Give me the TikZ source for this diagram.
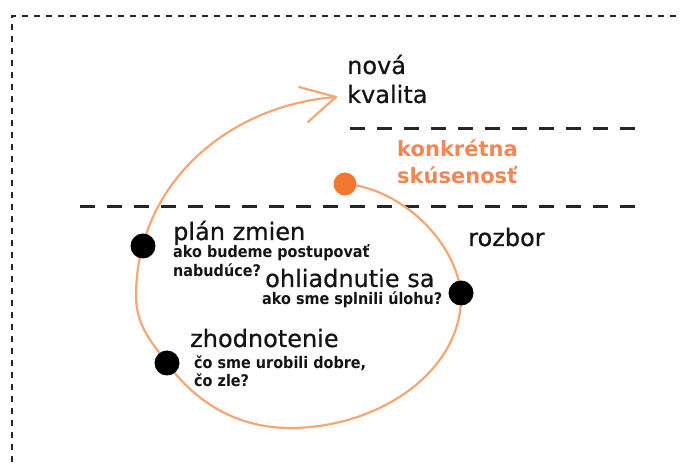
\documentclass[tikz,border=0pt]{standalone}
\usepackage{fontspec}
\setmainfont{DejaVu Sans}
\newfontfamily\labelfont[FakeBold=0.6]{DejaVu Sans}
\newfontfamily\notefont[FakeStretch=0.9]{DejaVu Sans Bold}
\begin{document}
\begin{tikzpicture}[x=1pt,y=-1pt,
  ink/.style={text=black!92},
  biglabel/.style={ink,anchor=base west,inner sep=0pt,font=\labelfont\fontsize{24}{28}\selectfont},
  smalllabel/.style={ink,anchor=base west,inner sep=0pt,font=\notefont\fontsize{16}{19}\selectfont},
  orangelabel/.style={anchor=base west,inner sep=0pt,text=orangetxt,font=\bfseries\fontsize{21}{25}\selectfont},
  stage/.style={circle,fill=black,inner sep=0pt,minimum size=25pt},
  startdot/.style={circle,fill=orangedot,inner sep=0pt,minimum size=23pt},
  level/.style={line width=3pt,dash pattern=on 15pt off 12pt,black!85},
  frame/.style={line width=2.3pt,dash pattern=on 6pt off 6pt,black!85},
  cycle/.style={line width=2.2pt,orangeline,line cap=round,line join=round}]
\definecolor{orangeline}{RGB}{244,166,116}
\definecolor{orangedot}{RGB}{240,120,50}
\definecolor{orangetxt}{RGB}{240,135,85}
\useasboundingbox (0,0) rectangle (681,465);

% outer dashed frame (only its top and left edges fall inside the page)
\coordinate (ftr) at (700,16);
\coordinate (ftl) at (12,16);
\coordinate (fbl) at (12,480);
\draw[frame] (ftr) -- (ftl) -- (fbl);

% dashed level lines
\coordinate (u1) at (350,129);
\coordinate (u2) at (640,129);
\coordinate (l1) at (80,207);
\coordinate (l2) at (640,207);
\draw[level] (u1) -- (u2);
\draw[level] (l1) -- (l2);

% stage points
\coordinate (exp) at (345,184);
\coordinate (look) at (461,293);
\coordinate (bottom) at (290,428);
\coordinate (eval) at (167,363);
\coordinate (left) at (136,295);
\coordinate (plan) at (143,246);
\coordinate (tip) at (336,97);
\coordinate (armA) at (299,87);
\coordinate (armB) at (308,122);

% spiral of learning, ending in an open arrowhead
\draw[cycle] (exp) .. controls (400,188) and (455,240) .. (look)
  .. controls (464,370) and (380,428) .. (bottom)
  .. controls (230,428) and (190,395) .. (eval)
  .. controls (150,340) and (136,325) .. (left)
  .. controls (137,182) and (230,105) .. (tip);
\draw[cycle] (armA) -- (tip) -- (armB);

% dots on the spiral
\node[startdot] (expdot) at (exp) {};
\node[stage] (lookdot) at (look) {};
\node[stage] (evaldot) at (eval) {};
\node[stage] (plandot) at (plan) {};

% labels
\node[biglabel] (nova) at (347,74) {nová};
\node[biglabel] (kval) at (347,103) {kvalita};
\node[orangelabel] (konk) at (397,157) {konkrétna};
\node[orangelabel] (skus) at (397,184) {skúsenosť};
\node[biglabel] (rozb) at (468,246) {rozbor};

\node[biglabel] (planT) at (173,240) {plán zmien};
\node[smalllabel] (planA) at (173,258) {ako budeme postupovať};
\node[smalllabel] (planB) at (173,277) {nabudúce?};

\node[biglabel] (lookT) at (265,287) {ohliadnutie sa};
\node[smalllabel] (lookA) at (262,305) {ako sme splnili úlohu?};

\node[biglabel] (evalT) at (190,347) {zhodnotenie};
\node[smalllabel] (evalA) at (194,369) {čo sme urobili dobre,};
\node[smalllabel] (evalB) at (194,387) {čo zle?};
\end{tikzpicture}
\end{document}
